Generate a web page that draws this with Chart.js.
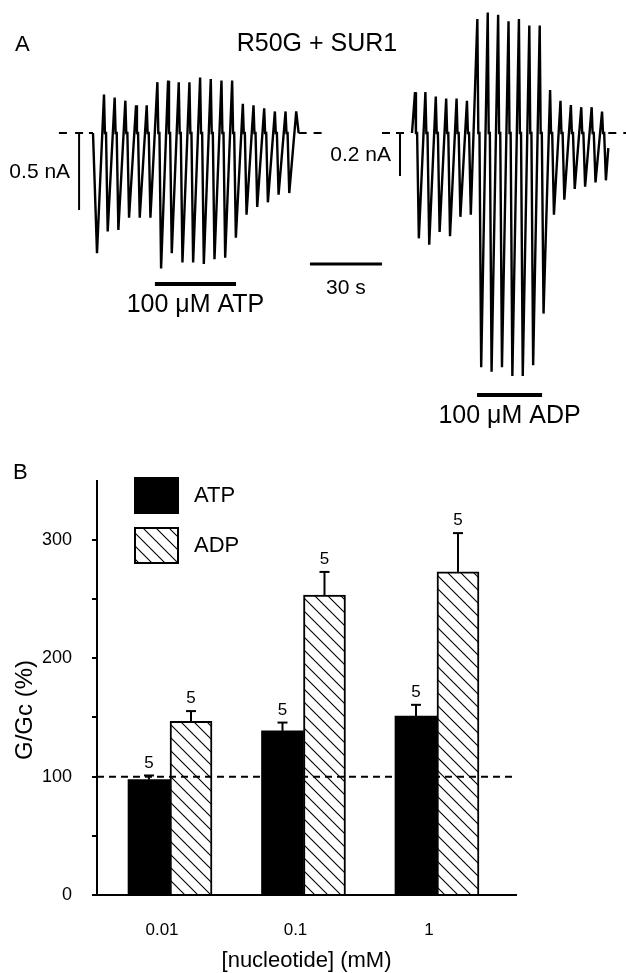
<!DOCTYPE html>
<html>
<head>
<meta charset="utf-8">
<script src="https://cdn.jsdelivr.net/npm/chart.js@4"></script>
<style>
  html, body { margin: 0; padding: 0; background: #fff; }
  #wrap { position: relative; width: 626px; height: 973px; }
  #traceLeft, #traceRight { position: absolute; left: 0; top: 0; }
  #barChart { position: absolute; left: 0; top: 450px; }
</style>
</head>
<body>
<div id="wrap">
  <canvas id="traceLeft" width="626" height="450"></canvas>
  <canvas id="traceRight" width="626" height="450"></canvas>
  <canvas id="barChart" width="626" height="523"></canvas>
</div>
<script>
// ---- Panel A: peak / trough current of each voltage ramp (nA) ----
const atpPeaks   = [0.25, 0.23, 0.21, 0.18, 0.18, 0.33, 0.34, 0.33, 0.33, 0.36, 0.35, 0.34, 0.34, 0.19, 0.18, 0.16, 0.14, 0.14, 0.14];
const atpTroughs = [0.78, 0.64, 0.63, 0.55, 0.55, 0.55, 0.88, 0.78, 0.84, 0.84, 0.85, 0.82, 0.81, 0.68, 0.53, 0.48, 0.45, 0.40, 0.39];
const adpPeaks   = [0.19, 0.19, 0.17, 0.16, 0.16, 0.15, 0.53, 0.56, 0.55, 0.52, 0.53, 0.50, 0.50, 0.20, 0.15, 0.13, 0.12, 0.12, 0.10];
const adpTroughs = [0.49, 0.52, 0.46, 0.48, 0.39, 0.38, 1.09, 1.11, 1.09, 1.13, 1.13, 1.08, 0.84, 0.38, 0.31, 0.26, 0.25, 0.23, 0.22];
const atpPeriod = 4.45;   // s between ramps
const adpPeriod = 4.33;
const atpPulse = [25.8, 59.6];  // s, nucleotide application
const adpPulse = [27.1, 54.2];

// ---- Panel B: G/Gc (%) ----
const concentrations = ['0.01', '0.1', '1'];
const atpMean = [97.5, 138.7, 151.2];
const atpSem  = [3.5, 7.0, 9.5];
const adpMean = [146.7, 253.4, 273.0];
const adpSem  = [8.7, 19.6, 32.8];
const atpN = [5, 5, 5];
const adpN = [5, 5, 5];
const yTickLabels = [0, 100, 200, 300];

const FONT = 'Liberation Sans, Arial, Helvetica, sans-serif';
Chart.defaults.font.family = FONT;
Chart.defaults.color = '#000';

const PX_PER_S = 2.4;

// trough/peak list -> zig-zag with a short stop on the zero line after each peak
function buildTrace(peaks, troughs, period, firstPeak, firstTrough, endValue) {
  const ext = [];
  peaks.forEach((p, i) => ext.push({ t: firstPeak + i * period, v: p }));
  troughs.forEach((q, i) => ext.push({ t: firstTrough + i * period, v: -q }));
  ext.sort((a, b) => a.t - b.t);
  const pts = [{ x: 0, y: 0 }];
  ext.forEach((e, i) => {
    pts.push({ x: e.t, y: e.v });
    const next = ext[i + 1];
    if (next && e.v > 0 && next.v < 0) {
      const dt = next.t - e.t;
      pts.push({ x: e.t + dt * 0.25, y: 0 }, { x: e.t + dt * 0.55, y: 0 });
    }
  });
  const last = ext[ext.length - 1];
  pts.push({ x: last.t + 1, y: endValue });
  return pts;
}

const atpTrace = buildTrace(atpPeaks, atpTroughs, atpPeriod, 4.58, 1.67, 0);
const adpTrace = buildTrace(adpPeaks, adpTroughs, adpPeriod, 1.25, 2.85, -0.07);

function line(ctx, x1, y1, x2, y2, w, dash) {
  ctx.save();
  ctx.strokeStyle = '#000';
  ctx.lineWidth = w;
  ctx.setLineDash(dash || []);
  ctx.beginPath();
  ctx.moveTo(x1, y1);
  ctx.lineTo(x2, y2);
  ctx.stroke();
  ctx.restore();
}

function text(ctx, str, x, y, size, align) {
  ctx.save();
  ctx.fillStyle = '#000';
  ctx.font = size + 'px ' + FONT;
  ctx.textAlign = align || 'center';
  ctx.textBaseline = 'middle';
  ctx.fillText(str, x, y);
  ctx.restore();
}

// scale bars, baselines and labels of one trace
function traceDecor(opts) {
  return {
    id: 'decor',
    afterDatasetsDraw(chart) {
      const { ctx } = chart;
      const xs = chart.scales.x, ys = chart.scales.y;
      const y0 = ys.getPixelForValue(0);
      const trace = chart.data.datasets[0].data;
      const tEnd = trace[trace.length - 1].x;
      line(ctx, xs.getPixelForValue(opts.dashBefore), y0, xs.getPixelForValue(0), y0, 2, [8, 7]);
      line(ctx, xs.getPixelForValue(tEnd), y0, xs.getPixelForValue(opts.dashAfter), y0, 2, [8, 7]);

      // current scale bar
      const bx = xs.getPixelForValue(opts.barT);
      const bTop = ys.getPixelForValue(0), bBot = ys.getPixelForValue(-opts.barNA);
      ctx.fillStyle = '#fff';
      ctx.fillRect(bx - 6, bTop - 2, 12, 4);
      line(ctx, bx, bTop, bx, bBot, 2);
      line(ctx, bx - 4, bTop, bx + 4, bTop, 2);
      text(ctx, opts.barNA + ' nA', bx - 9, (bTop + bBot) / 2 + 1, 21, 'right');

      // drug application bar
      const py = ys.getPixelForValue(opts.pulseY);
      const p1 = xs.getPixelForValue(opts.pulse[0]), p2 = xs.getPixelForValue(opts.pulse[1]);
      line(ctx, p1, py, p2, py, 4);
      text(ctx, opts.pulseLabel, (p1 + p2) / 2, py + 21, 25);

      if (opts.extra) opts.extra(chart, xs, ys);
    }
  };
}

function traceChart(id, data, yMin, yMax, xMin, decor) {
  return new Chart(document.getElementById(id), {
    type: 'line',
    data: { datasets: [{ data, borderColor: '#000', borderWidth: 2.4, pointRadius: 0, tension: 0 }] },
    options: {
      responsive: false,
      animation: false,
      layout: { padding: 0 },
      plugins: { legend: { display: false }, tooltip: { enabled: false } },
      scales: {
        x: { type: 'linear', display: false, min: xMin, max: xMin + 626 / PX_PER_S },
        y: { type: 'linear', display: false, min: yMin, max: yMax }
      }
    },
    plugins: [decor]
  });
}

traceChart('traceLeft', atpTrace, -317 / 154, 133 / 154, -93 / PX_PER_S, traceDecor({
  dashBefore: -14.2, dashAfter: 95.8, barT: -5.8, barNA: 0.5,
  pulse: atpPulse, pulseY: -0.98, pulseLabel: '100 \u03BCM ATP',
  extra(chart, xs, ys) {
    const { ctx } = chart;
    text(ctx, 'A', 15, 45, 22, 'left');
    text(ctx, 'R50G + SUR1', 317, 44, 25);
    // 30 s time bar
    const y = ys.getPixelForValue(-0.85);
    const a = xs.getPixelForValue(90.4), b = xs.getPixelForValue(120.4);
    line(ctx, a, y, b, y, 3);
    text(ctx, '30 s', (a + b) / 2, y + 24, 21);
  }
}));

traceChart('traceRight', adpTrace, -317 / 215, 133 / 215, -412 / PX_PER_S, traceDecor({
  dashBefore: -12.5, dashAfter: 89.2, barT: -5, barNA: 0.2,
  pulse: adpPulse, pulseY: -1.219, pulseLabel: '100 \u03BCM ADP'
}));

// ---- Panel B ----
function makeHatch(ctx) {
  const s = 13;
  const c = document.createElement('canvas');
  c.width = s; c.height = s;
  const g = c.getContext('2d');
  g.fillStyle = '#fff';
  g.fillRect(0, 0, s, s);
  g.strokeStyle = '#000';
  g.lineWidth = 1.1;
  g.beginPath();
  g.moveTo(-1, -1); g.lineTo(s + 1, s + 1);
  g.moveTo(-1, s - 1); g.lineTo(1, s + 1);
  g.moveTo(s - 1, -1); g.lineTo(s + 1, 1);
  g.stroke();
  return ctx.createPattern(c, 'repeat');
}

const barCanvas = document.getElementById('barChart');
const hatch = makeHatch(barCanvas.getContext('2d'));

const errorBars = {
  id: 'errorBars',
  afterDatasetsDraw(chart) {
    const { ctx, chartArea } = chart;
    const ys = chart.scales.y;
    const sems = [atpSem, adpSem];
    const ns = [atpN, adpN];
    chart.data.datasets.forEach((ds, di) => {
      chart.getDatasetMeta(di).data.forEach((bar, i) => {
        const top = ys.getPixelForValue(ds.data[i].y + sems[di][i]);
        line(ctx, bar.x, bar.y, bar.x, top, 2);
        line(ctx, bar.x - 5, top, bar.x + 5, top, 2);
        ctx.save();
        ctx.fillStyle = '#000';
        ctx.font = '17px ' + FONT;
        ctx.textAlign = 'center';
        ctx.textBaseline = 'bottom';
        ctx.fillText(String(ns[di][i]), bar.x, top - 4);
        ctx.restore();
      });
    });

    // control level
    const y100 = ys.getPixelForValue(100);
    line(ctx, chartArea.left, y100, chartArea.right, y100, 2, [7, 5]);

    // legend
    const lx = chartArea.left + 38;
    const boxes = [{ y: 28, ds: chart.data.datasets[0] }, { y: 78, ds: chart.data.datasets[1] }];
    boxes.forEach(b => {
      ctx.save();
      ctx.fillStyle = b.ds.backgroundColor;
      ctx.fillRect(lx, b.y, 43, 35);
      ctx.strokeStyle = '#000';
      ctx.lineWidth = 2;
      ctx.strokeRect(lx, b.y, 43, 35);
      ctx.restore();
      text(ctx, b.ds.label, lx + 59, b.y + 18, 22, 'left');
    });

    // panel letter and axis titles
    text(ctx, 'B', 13, 23, 22, 'left');
    ctx.save();
    ctx.translate(25, 260);
    ctx.rotate(-Math.PI / 2);
    text(ctx, 'G/Gc (%)', 0, 0, 24);
    ctx.restore();
    text(ctx, '[nucleotide] (mM)', (chartArea.left + chartArea.right) / 2, 511, 22);
  }
};

new Chart(barCanvas, {
  type: 'bar',
  data: {
    datasets: [
      { label: 'ATP', data: atpMean.map((v, i) => ({ x: i, y: v })), backgroundColor: '#000', borderColor: '#000', borderWidth: 0, barThickness: 42 },
      { label: 'ADP', data: adpMean.map((v, i) => ({ x: i, y: v })), backgroundColor: hatch, borderColor: '#000', borderWidth: 2, barThickness: 42 }
    ]
  },
  options: {
    responsive: false,
    animation: false,
    layout: { padding: { top: 26, right: 110, left: 0, bottom: 0 } },
    plugins: { legend: { display: false }, tooltip: { enabled: false } },
    scales: {
      x: {
        type: 'linear', offset: false, min: -0.547, max: 2.592,
        afterBuildTicks: s => { s.ticks = concentrations.map((_, i) => ({ value: i })); },
        afterFit: s => { s.height = 78; },
        grid: { display: false, drawTicks: false },
        border: { display: true, color: '#000', width: 2 },
        ticks: {
          callback: v => concentrations[v] ?? '',
          font: { size: 17 }, color: '#000', padding: 25, labelOffset: -8,
          maxRotation: 0, autoSkip: false
        }
      },
      y: {
        min: 0, max: 350,
        afterFit: s => { s.width = 97; },
        grid: {
          drawOnChartArea: false, drawTicks: true, tickLength: 5, lineWidth: 2,
          color: c => (c.tick && c.tick.value === 350 ? 'rgba(0,0,0,0)' : '#000')
        },
        border: { display: true, color: '#000', width: 2 },
        ticks: {
          stepSize: 50,
          callback: v => (yTickLabels.includes(v) ? v : ''),
          font: { size: 18 }, color: '#000', padding: 20
        }
      }
    }
  },
  plugins: [errorBars]
});
</script>
</body>
</html>
